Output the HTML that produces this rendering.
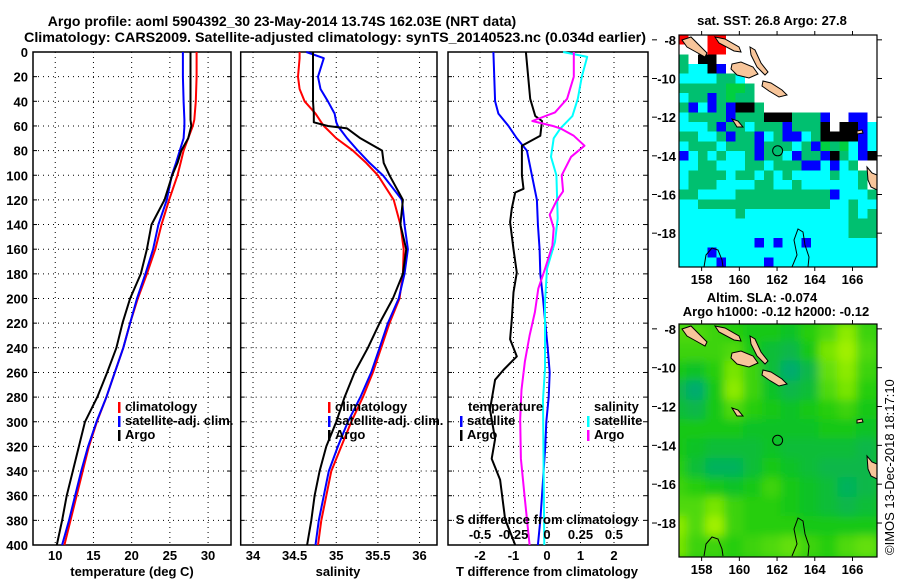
<!DOCTYPE html>
<html><head><meta charset="utf-8">
<style>
html,body{margin:0;padding:0;background:#fff;}
svg text{font-family:"Liberation Sans",Arial,sans-serif;font-weight:bold;font-size:13px;fill:#000;}
</style></head>
<body>
<svg id="chart" width="900" height="580" viewBox="0 0 900 580" xmlns="http://www.w3.org/2000/svg">
<text x="282" y="26" text-anchor="middle" style="font-size:14px">Argo profile: aoml 5904392_30 23-May-2014 13.74S 162.03E (NRT data)</text>
<text x="335" y="42" text-anchor="middle" style="font-size:14px" textLength="622" lengthAdjust="spacingAndGlyphs">Climatology: CARS2009. Satellite-adjusted climatology: synTS_20140523.nc (0.034d earlier)</text>
<g id="p1"></g>
<g id="p2"></g>
<g id="p3"></g>
<g id="m1"></g>
<g id="m2"></g>
<text x="772" y="25" text-anchor="middle">sat. SST: 26.8 Argo: 27.8</text>
<text x="762" y="302" text-anchor="middle">Altim. SLA: -0.074</text>
<text x="776" y="316" text-anchor="middle">Argo h1000: -0.12 h2000: -0.12</text>
<text x="0" y="0" transform="translate(894,555) rotate(-90)" style="font-weight:normal;font-size:13px">©IMOS 13-Dec-2018 18:17:10</text>
</svg>
<script>
// ---------- data ----------
const depthT=[0,20,40,55,60,70,80,90,100,120,140,160,180,200,220,240,260,280,300,320,340,360,380,400];
const climT=[28.5,28.5,28.4,28.2,28.0,27.4,26.8,26.4,26.0,24.9,23.9,23.1,22.0,20.8,19.8,18.9,17.8,16.7,15.45,14.4,13.6,12.8,12.0,11.2];
const satT =[26.7,26.7,26.8,26.9,26.9,26.8,26.3,25.8,25.25,24.6,23.5,22.8,21.8,20.7,19.8,18.9,17.8,16.7,15.4,14.3,13.4,12.6,11.8,10.9];
const argoT=[27.7,27.7,27.7,27.7,27.8,27.4,26.5,26.0,25.3,24.3,22.6,22.0,21.2,19.8,18.8,18.0,16.8,15.5,13.9,13.1,12.3,11.5,10.9,10.2];
const depthS=[0,5,20,30,40,50,57,60,62,70,80,90,100,120,140,160,180,200,220,240,260,280,300,320,340,360,380,400];
const climS=[34.56,34.56,34.54,34.56,34.62,34.75,34.82,34.85,34.88,35.0,35.2,35.36,35.5,35.69,35.77,35.81,35.8,35.76,35.64,35.54,35.44,35.32,35.18,35.06,34.94,34.88,34.82,34.78];
const satS =[34.64,34.85,34.78,34.81,34.9,34.98,35.0,35.02,35.04,35.13,35.26,35.4,35.56,35.79,35.82,35.86,35.82,35.75,35.62,35.52,35.42,35.29,35.14,35.02,34.91,34.85,34.79,34.75];
const argoS=[34.72,34.72,34.72,34.72,34.72,34.73,34.73,34.9,35.13,35.29,35.55,35.57,35.64,35.8,35.77,35.84,35.8,35.68,35.52,35.38,35.22,35.1,35.0,34.88,34.8,34.74,34.7,34.65];
const depthDT=[0,38,52,56,68,76,100,111,114,127,138,160,179,195,217,233,247,258,266,290,314,330,347,379,400];
const argoDT=[-0.63,-0.5,-0.35,-0.15,-0.2,-0.75,-0.75,-0.7,-0.95,-1.05,-1.1,-1.0,-0.9,-1.0,-1.05,-1.1,-0.9,-1.3,-1.55,-1.7,-1.55,-1.65,-1.4,-1.25,-0.95];
const depthST=[0,40,50,60,70,80,100,120,140,160,180,200,220,240,260,280,300,320,340,360,380,400];
const satDT=[-1.6,-1.55,-1.45,-1.15,-0.9,-0.6,-0.45,-0.3,-0.27,-0.22,-0.2,-0.12,-0.05,0.02,0.08,0.05,-0.02,-0.05,-0.1,-0.15,-0.2,-0.27];
const depthDS=[0,20,38,49,56,60,62,68,76,85,100,113,121,132,143,157,176,192,211,230,251,274,298,330,363,400];
const argoDS=[0.2,0.2,0.15,0.06,-0.11,0.045,0.1,0.2,0.28,0.18,0.11,0.12,0.07,0.02,0.05,0.04,-0.015,-0.065,-0.09,-0.13,-0.165,-0.19,-0.2,-0.195,-0.165,-0.13];
const depthCS=[0,4,20,38,52,62,70,85,100,135,154,176,203,257,282,400];
const satDS=[0.12,0.3,0.26,0.23,0.19,0.1,0.05,0.03,0.07,0.08,0.06,0,-0.015,-0.015,-0.03,-0.02];
const depthTicks=[0,20,40,60,80,100,120,140,160,180,200,220,240,260,280,300,320,340,360,380,400];
const tTicks=[10,15,20,25,30], sTicks=[34,34.5,35,35.5,36], sTickLabels=["34","34.5","35","35.5","36"];
const dTTicks=[-2,-1,0,1,2], dSTicks=[-0.5,-0.25,0,0.25,0.5], dSTickLabels=["-0.5","-0.25","0","0.25","0.5"];
// SST map cells (0.5 deg): w white,c cyan,g green,G bright green,b blue,k black,r red
const sstRows=[
"rwwrrwwwwwwwwwwwwwwww",
"wwwrrwwwwwwwwwwwwwwww",
"gwkkwwwwwwwwwwwwwwwww",
"gcckbwwwwwwwwwwwwwwww",
"ccccggcwwwwwwwwwwwwww",
"gggggGGgwwwwwwwwwwwww",
"cggbgGggwwwwwwwwwwwww",
"gbcbgbkkgwwwwwwwwwwww",
"cggggbgggkkkgggbwwbbw",
"cccgbggcgggbgggkwkkbc",
"ggccgbggbcgbbcgkkkkbc",
"cgggcgggbgggcgbGgGcbc",
"bcgcgccgbggcbggbkgcbk",
"ccggcccggcgggbbcbcgww",
"cggggcggcgcgccccgccgw",
"cgggccccggccgccccccgw",
"ggccccggggggggggbcccg",
"ccggggggggggggggccgcc",
"ccccccgcccccccccccgcg",
"ccccccccccccccccccggg",
"ccccccccccccccccccggg",
"ccccccccbcbccbccccccc",
"cccbcccccccccccccccc",
"ccccbccccbccccccccccc"];
const slaRows=[
[0.3,0.3,0.2,0.1,0,0,-0.1,0.1,0.3,0.6,0.2],
[0.2,0.2,0.2,0.3,0,-0.2,-0.3,0,0.5,0.8,0.3],
[0,-0.1,0.1,0.5,0.2,-0.2,-0.5,-0.3,0.4,0.6,0.2],
[-0.3,-0.5,0,0.6,0.2,-0.1,-0.3,-0.2,0.3,0.5,0.1],
[-0.2,-0.3,0,0.3,0.1,0,-0.1,0,0.1,0.2,0],
[0,0,0,0,-0.1,-0.1,-0.1,-0.1,0,0,-0.1],
[0,-0.1,-0.2,-0.2,-0.2,-0.1,-0.2,-0.2,-0.2,-0.2,-0.3],
[0.1,-0.2,-0.4,-0.4,-0.2,0,-0.1,-0.2,-0.3,-0.3,-0.3],
[0.2,0.1,0,-0.1,0,0.2,0,-0.1,-0.2,-0.4,-0.3],
[0.3,0.3,0.5,0.2,0.1,0.1,0,-0.1,-0.2,-0.3,-0.2],
[0.6,0.3,0.7,0.2,0.1,0.1,0.1,0,0,0,0],
[0.5,0.2,0.2,0.1,0.2,0.3,0.4,0.2,0.1,0.3,0.4]];
const mapLonTicks=[158,160,162,164,166], mapLatTicks=[-8,-10,-12,-14,-16,-18];
const argoLon=162.03, argoLat=-13.74;

// ---------- helpers ----------
const NS="http://www.w3.org/2000/svg";
function mk(tag,attrs,parent){const e=document.createElementNS(NS,tag);for(const k in attrs)e.setAttribute(k,attrs[k]);parent.appendChild(e);return e;}
const Y0=52,Y1=545;
function yD(d){return Y0+d*(Y1-Y0)/400;}
function panel(g,x0,x1,vmin,vmax){return v=>x0+(v-vmin)*(x1-x0)/(vmax-vmin);}
function gridAndFrame(g,x0,x1,sx,xt){
  for(const d of depthTicks){ if(d===0||d===400)continue;
    const l=mk('line',{x1:x0,x2:x1,y1:yD(d),y2:yD(d),stroke:'#000','stroke-width':1,'stroke-dasharray':'1,4'},g);
    
    
    for(const [a,b] of [[x0,x0+4],[x1-4,x1]]){const t=mk('line',{x1:a,x2:b,y1:yD(d),y2:yD(d),stroke:'#000'},g);
      
      }
  }
  for(const v of xt){
    const l=mk('line',{x1:sx(v),x2:sx(v),y1:Y0,y2:Y1,stroke:'#000','stroke-width':1,'stroke-dasharray':'1,4'},g);
    
    
  }
  const r=mk('rect',{x:x0,y:Y0,width:x1-x0,height:Y1-Y0,fill:'none',stroke:'#000','stroke-width':1.5},g);
  
  
}
function series(g,sx,depths,vals,color,name){
  const pts=depths.map((d,i)=>sx(vals[i]).toFixed(1)+','+yD(d).toFixed(1)).join(' ');
  const p=mk('polyline',{points:pts,fill:'none',stroke:color,'stroke-width':2,'stroke-linejoin':'round'},g);
  
  
}
function txt(g,x,y,s,anchor,name,extra){
  const t=mk('text',Object.assign({x:x,y:y,'text-anchor':anchor||'start'},extra||{}),g);t.textContent=s;
  
  
  return t;
}
function legendRow(g,x,y,color,label,name){
  const m=mk('rect',{x:x,y:y-9,width:2.5,height:11,fill:color},g);
  
  
  txt(g,x+7,y,label,'start',name);
}

// ---------- panel 1 ----------
{const g=document.getElementById('p1');const x0=33,x1=231;const sx=panel(g,x0,x1,7.09,33.0);
 gridAndFrame(g,x0,x1,sx,tTicks);
 series(g,sx,depthT,climT,'#ff0000','climatology-temperature-line');
 series(g,sx,depthT,satT,'#0000ff','satellite-temperature-line');
 series(g,sx,depthT,argoT,'#000000','argo-temperature-line');
 for(const d of depthTicks) txt(g,28,yD(d)+5,String(d),'end','depth-tick-label');
 tTicks.forEach(v=>txt(g,sx(v),560,String(v),'middle','temperature-tick-label'));
 txt(g,132,576,'temperature (deg C)','middle','temperature-axis-title');
 legendRow(g,118,411,'#ff0000','climatology','legend-climatology');
 legendRow(g,118,425,'#0000ff','satellite-adj. clim.','legend-satellite');
 legendRow(g,118,439,'#000000','Argo','legend-argo');
}
// ---------- panel 2 ----------
{const g=document.getElementById('p2');const x0=240.7,x1=437;const sx=panel(g,x0,x1,33.852,36.21);
 gridAndFrame(g,x0,x1,sx,sTicks);
 series(g,sx,depthS,climS,'#ff0000','climatology-salinity-line');
 series(g,sx,depthS,satS,'#0000ff','satellite-salinity-line');
 series(g,sx,depthS,argoS,'#000000','argo-salinity-line');
 sTicks.forEach((v,i)=>txt(g,sx(v),560,sTickLabels[i],'middle','salinity-tick-label'));
 txt(g,338,576,'salinity','middle','salinity-axis-title');
 legendRow(g,328,411,'#ff0000','climatology','legend-climatology-2');
 legendRow(g,328,425,'#0000ff','satellite-adj. clim.','legend-satellite-2');
 legendRow(g,328,439,'#000000','Argo','legend-argo-2');
}
// ---------- panel 3 ----------
{const g=document.getElementById('p3');const x0=448,x1=648;const sx=panel(g,x0,x1,-2.955,3.015);
 const ss=panel(g,x0,x1,-0.739,0.754);
 gridAndFrame(g,x0,x1,sx,dTTicks);
 series(g,sx,depthST,satDT,'#0000ff','satellite-t-difference-line');
 series(g,sx,depthDT,argoDT,'#000000','argo-t-difference-line');
 series(g,ss,depthCS,satDS,'#00ffff','satellite-s-difference-line');
 series(g,ss,depthDS,argoDS,'#ff00ff','argo-s-difference-line');
 dTTicks.forEach(v=>txt(g,sx(v),560,String(v),'middle','t-difference-tick-label'));
 txt(g,547,576,'T difference from climatology','middle','t-difference-axis-title');
 txt(g,547,524,'S difference from climatology','middle','s-difference-axis-title');
 dSTicks.forEach((v,i)=>txt(g,ss(v),539,dSTickLabels[i],'middle','s-difference-tick-label'));
 txt(g,468,411,'temperature','start','legend-temperature-heading');
 legendRow(g,460,425,'#0000ff','satellite','legend-t-satellite');
 legendRow(g,460,439,'#000000','Argo','legend-t-argo');
 txt(g,594,411,'salinity','start','legend-salinity-heading');
 legendRow(g,587,425,'#00ffff','satellite','legend-s-satellite');
 legendRow(g,587,439,'#ff00ff','Argo','legend-s-argo');
}
// ---------- maps ----------
const MX0=679,MX1=877,LON0=156.8,LON1=167.3,LAT0=-7.75,LAT1=-19.75;
const lands=[
 "3,5 12,2 20,10 28,18 26,22 17,17 8,12",
 "36,2 46,4 60,12 62,17 55,16 40,8",
 "71,12 76,15 82,28 89,37 86,40 78,32 72,20",
 "53,29 62,27 74,32 79,39 70,43 58,40 52,34",
 "84,46 92,48 103,55 108,60 100,62 90,56 83,51",
 "188,132 193,138 198,140 198,155 192,152 189,145",
 "178,96 183,95 184,98 178,99",
 "53,84 59,86 64,92 58,92"];
const outlines=["113,232 118,220 115,205 119,194 124,197 126,210 130,222 129,232",
 "25,232 27,220 33,213 39,215 43,225 44,232"];
function mapFrame(g,top,bot){
  const sx=lon=>MX0+(lon-LON0)*(MX1-MX0)/(LON1-LON0);
  const sy=lat=>top+(LAT0-lat)*(bot-top)/(LAT0-LAT1);
  return [sx,sy];
}
function mapDecor(g,top,bot,sx,sy,name){
  const lg=mk('g',{transform:`translate(${MX0},${top})`},g);
  
  
  lands.forEach(p=>{const e=mk('polygon',{points:p,fill:'#f7c59a',stroke:'#000','stroke-width':1},lg);
    
    });
  outlines.forEach(p=>{const e=mk('polyline',{points:p,fill:'none',stroke:'#000','stroke-width':1},lg);
    
    });
  const c=mk('circle',{cx:sx(argoLon),cy:sy(argoLat),r:5,fill:'none',stroke:'#000','stroke-width':1},g);
  
  
  const r=mk('rect',{x:MX0,y:top,width:MX1-MX0,height:bot-top,fill:'none',stroke:'#000','stroke-width':1.2},g);
  
  
  mapLonTicks.forEach(v=>{
    for(const [a,b] of [[top-4,top],[bot,bot+4]]){const t=mk('line',{x1:sx(v),x2:sx(v),y1:a,y2:b,stroke:'#000'},g);
      
      }
    txt(g,sx(v),bot+17,String(v),'middle',name+'-lon-label');
  });
  mapLatTicks.forEach(v=>{
    for(const [a,b] of [[MX1,MX1+5],[652,657]]){const t=mk('line',{x1:a,x2:b,y1:sy(v),y2:sy(v),stroke:'#000'},g);
      
      }
    txt(g,676,sy(v)+5,String(v),'end',name+'-lat-label');
  });
}
{const g=document.getElementById('m1');const top=35,bot=267;const [sx,sy]=mapFrame(g,top,bot);
 const col={w:'#ffffff',c:'#00ffff',g:'#00c070',G:'#00d040',b:'#0000ff',k:'#000000',r:'#ff0000'};
 const cg=mk('g',{'shape-rendering':'crispEdges'},g);
 sstRows.forEach((row,i)=>{for(let j=0;j<21;j++){const ch=row[j]||'c';
   const lon=LON0+j*0.5, lat=LAT0-i*0.5;
   const e=mk('rect',{x:sx(lon),y:sy(lat),width:sx(lon+0.5)-sx(lon)+0.3,height:sy(lat-0.5)-sy(lat)+0.3,fill:col[ch]},cg);
   
   }});
 mapDecor(g,top,bot,sx,sy,'map1');
}
{const g=document.getElementById('m2');const top=324,bot=557;const [sx,sy]=mapFrame(g,top,bot);
 function slaColor(v){let a,b,t;
   if(v<0){a=[20,200,20];b=[0,172,110];t=Math.min(1,-v/0.5);}else{a=[20,200,20];b=[160,240,0];t=Math.min(1,v/0.7);}
   return `rgb(${a.map((c,k)=>Math.round(c+(b[k]-c)*t)).join(',')})`;}
 const cpath=mk('clipPath',{id:'m2clip'},g);
 mk('rect',{x:MX0,y:top,width:MX1-MX0,height:bot-top},cpath);
 const f=mk('filter',{id:'blur2',x:'-10%',y:'-10%',width:'120%',height:'120%'},g);mk('feGaussianBlur',{stdDeviation:4.5},f);
 const outer=mk('g',{'clip-path':'url(#m2clip)'},g);
 mk('rect',{x:MX0,y:top,width:MX1-MX0,height:bot-top,fill:slaColor(0)},outer);
 const cg=mk('g',{filter:'url(#blur2)'},outer);
 slaRows.forEach((row,i)=>row.forEach((v,j)=>{
   const lon=157+j-0.7, lat=-7.75-i;
   const e=mk('rect',{x:sx(lon)-2,y:sy(lat)-2,width:sx(lon+1)-sx(lon)+4,height:sy(lat-1)-sy(lat)+4,fill:slaColor(v)},cg);
   
   }));
 mapDecor(g,top,bot,sx,sy,'map2');
}
</script>
</body></html>
